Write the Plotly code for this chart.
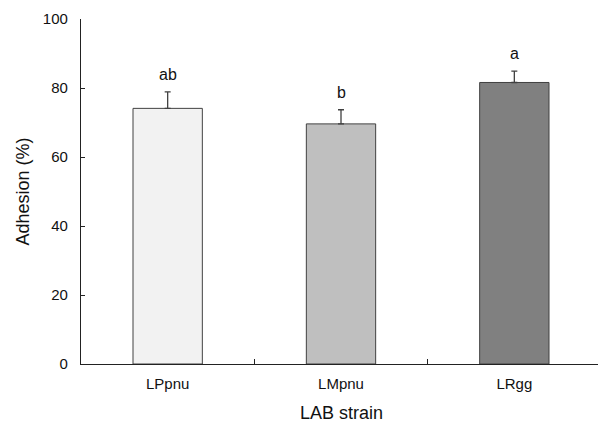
import plotly.graph_objects as go

strains = ["LPpnu", "LMpnu", "LRgg"]
adhesion = [74.1, 69.6, 81.6]
sd = [4.8, 4.1, 3.3]
letters = ["ab", "b", "a"]
colors = ["#f2f2f2", "#bfbfbf", "#808080"]
x_title = "LAB strain"
y_title = "Adhesion (%)"

font = "Liberation Sans, Arial, sans-serif"

fig = go.Figure()
fig.add_trace(go.Bar(
    x=strains, y=adhesion,
    width=0.4,
    marker=dict(color=colors, line=dict(color="#404040", width=1)),
    error_y=dict(type="data", array=sd, arrayminus=[0] * len(sd),
                 symmetric=False, color="#404040", thickness=1.3, width=3),
    showlegend=False,
))

for s, m, e, t in zip(strains, adhesion, sd, letters):
    fig.add_annotation(x=s, y=m + e, text=t, showarrow=False,
                       yanchor="bottom", yshift=7,
                       font=dict(family=font, size=16, color="#111111"))

fig.add_annotation(x=0.5, y=0, xref="paper", yref="paper", text=x_title,
                   showarrow=False, yanchor="middle", yshift=-49,
                   font=dict(family=font, size=18, color="#111111"))

# the page body adds an 8px offset, so the figure is sized to fit the window
fig.update_layout(
    width=598, height=416,
    margin=dict(l=73, r=5, t=11, b=60),
    plot_bgcolor="white", paper_bgcolor="white",
    font=dict(family=font, size=14, color="#111111"),
    bargap=0.6,
)
fig.update_xaxes(
    type="category", range=[-0.5, 2.5], tickson="boundaries",
    showline=True, linecolor="#222222", linewidth=1.3,
    ticks="inside", ticklen=5, tickcolor="#222222", tickwidth=1,
    tickfont=dict(size=15), showgrid=False, zeroline=False,
    ticklabelstandoff=6, automargin=False,
)
fig.update_yaxes(
    range=[0, 100], tickvals=[0, 20, 40, 60, 80, 100],
    showline=True, linecolor="#222222", linewidth=1.3,
    ticks="inside", ticklen=4, tickcolor="#222222", tickwidth=1,
    tickfont=dict(size=15), showgrid=False, zeroline=False,
    ticklabelstandoff=9, automargin=False,
    title=dict(text=y_title, font=dict(size=18), standoff=8),
)

fig.write_html("out.html")
